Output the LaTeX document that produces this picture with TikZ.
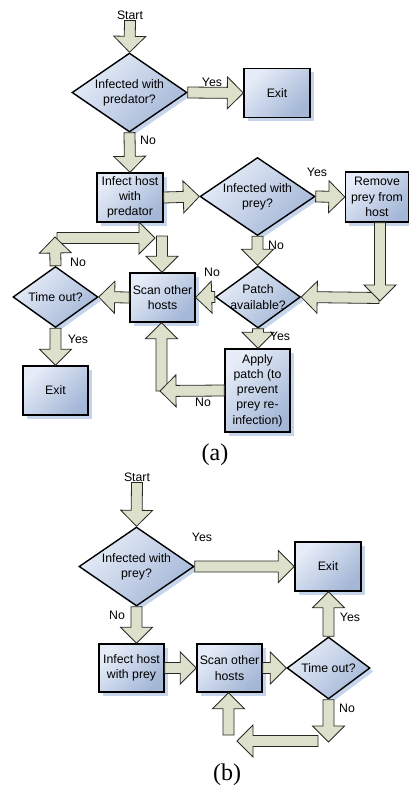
\documentclass[tikz,border=0pt]{standalone}
\usepackage{fontspec}
\setmainfont{Liberation Sans}
\newfontfamily\subfigfont{Liberation Serif}
\usepackage{xcolor}
\usepackage{tikz}
\usetikzlibrary{shapes.geometric, calc, shadows}
\definecolor{FlowBoxLight}{RGB}{231,237,248}
\definecolor{FlowBoxDark}{RGB}{164,183,215}
\definecolor{FlowShadow}{RGB}{198,212,236}
\definecolor{FlowArrowFill}{RGB}{221,225,204}
\definecolor{FlowArrowEdge}{RGB}{40,40,36}

% block arrow from #1 to #2 (shaft 11pt, head 32pt x 16pt)
\newcommand{\fatarrow}[2]{%
  \draw[fatarrow] let \p1=#1, \p2=#2, \p3=($(\p2)!16pt!(\p1)$) in
    ($(\p1)!5.5pt!90:(\p2)$) -- ($(\p3)!5.5pt!90:(\p2)$) -- ($(\p3)!16pt!90:(\p2)$)
    -- (\p2) -- ($(\p3)!16pt!-90:(\p2)$) -- ($(\p3)!5.5pt!-90:(\p2)$)
    -- ($(\p1)!5.5pt!-90:(\p2)$) -- cycle;}

\tikzset{
  procbox/.style={rectangle, draw=black, line width=1.4pt,
    top color=FlowBoxLight, bottom color=FlowBoxDark, shading angle=45,
    minimum width=66pt, minimum height=49pt, inner sep=2pt, align=center,
    drop shadow={fill=FlowShadow, opacity=1, shadow xshift=3.5pt, shadow yshift=-3.5pt}},
  decision/.style={diamond, draw=black, line width=1.4pt,
    top color=FlowBoxLight, bottom color=FlowBoxDark, shading angle=45,
    minimum width=115pt, minimum height=79pt, inner sep=-6pt, align=center,
    drop shadow={fill=FlowShadow, opacity=1, shadow xshift=3.5pt, shadow yshift=-3.5pt}},
  smalldecision/.style={decision, minimum width=85pt, minimum height=62pt},
  fatarrow/.style={draw=FlowArrowEdge, fill=FlowArrowFill, line width=0.8pt, line join=miter},
  flowlabel/.style={inner sep=1pt},
  subfig/.style={font=\subfigfont\fontsize{24}{26}\selectfont}
}

\begin{document}
\begin{tikzpicture}[x=1pt, y=-1pt, font=\fontsize{12.3}{15.3}\selectfont]
  \useasboundingbox (0,0) rectangle (409,789);

  % ---- (a) predator ----
  \node[flowlabel] (startA) at (130,15) {Start};
  \node[decision] (predQ) at (129.5,92.5) {Infected with\\predator?};
  \node[procbox] (exitA) at (277,93) {Exit};
  \node[procbox] (infectPred) at (130,197.5) {Infect host\\with\\predator};
  \node[decision, minimum height=78pt] (preyQ) at (257.5,196.5) {Infected with\\prey?};
  \node[procbox, minimum width=63pt, minimum height=50pt] (removePrey) at (377,197) {Remove\\prey from\\host};
  \node[smalldecision] (patchQ) at (258,297) {Patch\\available?};
  \node[procbox, minimum width=65pt] (scanA) at (162.5,297.5) {Scan other\\hosts};
  \node[smalldecision, minimum height=61pt] (timeoutA) at (55.5,297) {Time out?};
  \node[procbox, minimum width=65pt] (exitTimeA) at (55.5,390.5) {Exit};
  \node[procbox, minimum width=65pt, minimum height=83pt] (applyPatch) at (257.5,390.5)
    {Apply\\patch (to\\prevent\\prey re-\\infection)};
  \node[subfig] (capA) at (215,455) {(a)};

  \coordinate (rdown) at (380,301);
  \coordinate (rleft) at (379,298);
  \coordinate (tup) at (55,237);
  \coordinate (tright) at (57,238);
  \coordinate (tjoin) at (155,238);
  \coordinate (tdown) at (162,236);
  \coordinate (aup) at (161.5,391);
  \coordinate (aleft) at (160,391);

  \fatarrow{(startA.south)}{(predQ.north)}
  \fatarrow{(predQ.east)}{(exitA.west)}
  \fatarrow{(predQ.south)}{(infectPred.north)}
  \fatarrow{(infectPred.east)}{(preyQ.west)}
  \fatarrow{(preyQ.east)}{(removePrey.west)}
  \fatarrow{(rleft)}{(patchQ.east)}
  \fatarrow{(rdown |- removePrey.south)}{(rdown)}
  \fatarrow{(preyQ.south)}{(preyQ.south |- patchQ.north)}
  \fatarrow{(patchQ.west)}{(scanA.east)}
  \fatarrow{(scanA.west)}{(timeoutA.east)}
  \fatarrow{(timeoutA.south)}{(exitTimeA.north)}
  \fatarrow{(tdown)}{(tdown |- scanA.north)}
  \fatarrow{(tright)}{(tjoin)}
  \fatarrow{(timeoutA.north)}{(tup)}
  \fatarrow{(patchQ.south)}{(patchQ.south |- applyPatch.north)}
  \fatarrow{(aup)}{(aup |- scanA.south)}
  \fatarrow{(applyPatch.west)}{(aleft)}

  \node[flowlabel] (yesA1) at (212,82) {Yes};
  \node[flowlabel] (noA1) at (148,140) {No};
  \node[flowlabel] (yesA2) at (317,172) {Yes};
  \node[flowlabel] (noA2) at (276,245) {No};
  \node[flowlabel] (noA3) at (212,272) {No};
  \node[flowlabel] (noA4) at (78,262) {No};
  \node[flowlabel] (yesA3) at (78,339) {Yes};
  \node[flowlabel] (yesA4) at (280,336) {Yes};
  \node[flowlabel] (noA5) at (203,402) {No};

  % ---- (b) prey ----
  \node[flowlabel] (startB) at (137,477) {Start};
  \node[decision] (preyB) at (136.5,566.5) {Infected with\\prey?};
  \node[procbox] (exitB) at (328,566.5) {Exit};
  \node[procbox, minimum width=65pt, minimum height=48pt] (infectPrey) at (131.5,668) {Infect host\\with prey};
  \node[procbox, minimum width=65pt, minimum height=48pt] (scanB) at (229.5,668) {Scan other\\hosts};
  \node[smalldecision, minimum width=83pt] (timeoutB) at (328.5,668) {Time out?};
  \node[subfig] (capB) at (227,775) {(b)};

  \coordinate (bdown) at (328.5,742);
  \coordinate (bleft) at (318,741);
  \coordinate (bend) at (237,741);
  \coordinate (bup) at (228.5,735);

  \fatarrow{(startB.south)}{(preyB.north)}
  \fatarrow{(preyB.east)}{(exitB.west)}
  \fatarrow{(preyB.south)}{(preyB.south |- infectPrey.north)}
  \fatarrow{(infectPrey.east)}{(scanB.west)}
  \fatarrow{(scanB.east)}{(timeoutB.west)}
  \fatarrow{(timeoutB.north)}{(timeoutB.north |- exitB.south)}
  \fatarrow{(timeoutB.south)}{(bdown)}
  \fatarrow{(bleft)}{(bend)}
  \fatarrow{(bup)}{(bup |- scanB.south)}

  \node[flowlabel] (yesB1) at (202,537) {Yes};
  \node[flowlabel] (noB1) at (117,615) {No};
  \node[flowlabel] (yesB2) at (350,617) {Yes};
  \node[flowlabel] (noB2) at (347,708) {No};
\end{tikzpicture}
\end{document}
